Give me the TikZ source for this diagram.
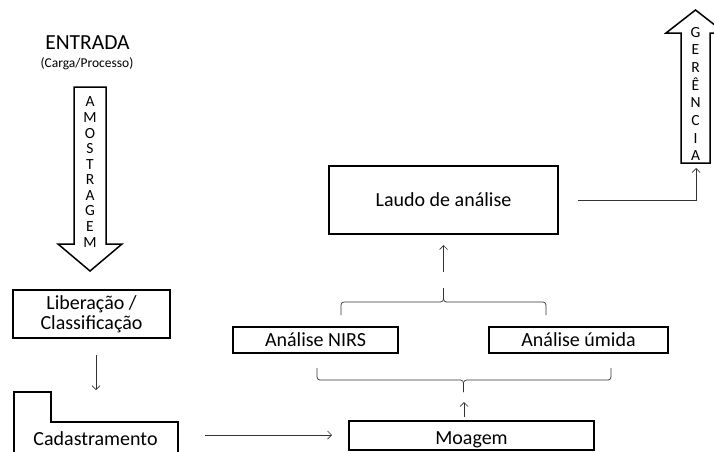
\documentclass[tikz,border=0pt]{standalone}
\usepackage{fontspec}
\setmainfont{Carlito}
\usetikzlibrary{arrows.meta}
\begin{document}
\begin{tikzpicture}[x=1pt,y=-1pt,
  box/.style={draw,line width=1.5pt,inner sep=0pt,font=\fontsize{20}{20}\selectfont,align=center},
  fat/.style={draw,line width=1.5pt,line join=miter},
  conn/.style={line width=0.7pt,draw=black!80,-{Straight Barb[length=4pt,width=8pt]}},
  brc/.style={line width=0.7pt,draw=black!80,rounded corners=3pt},
  vlet/.style={inner sep=0pt,align=center,font=\fontsize{15.5}{15.56}\selectfont}]
\useasboundingbox (0,0) rectangle (714,451);
\clip (0,0) rectangle (714,451);
% input
\node[font=\fontsize{21.5}{21.5}\selectfont] (entrada) at (87.5,43) {ENTRADA};
\node[font=\fontsize{13.5}{13.5}\selectfont] (carga) at (87,64) {(Carga/Processo)};
% amostragem arrow
\draw[fat] (74,87) -- (106,87) -- (106,244) -- (122,244) -- (90,271) -- (58,244) -- (74,244) -- cycle;
\node[vlet] (amos) at (90,172) {A\\M\\O\\S\\T\\R\\A\\G\\E\\M};
% liberacao
\node[box,minimum width=157pt,minimum height=48pt] (lib) at (91.5,314) {Liberação /\\Classificação};
% cadastramento
\draw[fat] (14,460) -- (14,392) -- (51,392) -- (51,422) -- (178,422) -- (178,460);
\node[font=\fontsize{20}{20}\selectfont,inner sep=0pt] (cad) at (95.5,439) {Cadastramento};
% moagem
\node[box,minimum width=245pt,minimum height=29pt,text height=17.3pt,text depth=0pt] (moa) at (471.5,435.5) {Moagem};
% analyses
\node[box,minimum width=165pt,minimum height=26pt] (nirs) at (315.5,340) {Análise NIRS};
\node[box,minimum width=179pt,minimum height=26pt] (umi) at (578.5,340) {Análise úmida};
% laudo
\node[box,minimum width=229pt,minimum height=68pt] (laudo) at (443.5,200) {Laudo de análise};
% gerencia arrow
\draw[fat] (681,163) -- (681,33) -- (666,33) -- (695.5,10) -- (725,33) -- (710,33) -- (710,163) -- cycle;
\node[vlet,font=\fontsize{15.5}{17.7}\selectfont] (ger) at (695.5,94) {G\\E\\R\\Ê\\N\\C\\I\\A};
% connectors
\coordinate (la) at (96,355);
\coordinate (lb) at (96,390);
\draw[conn] (la) -- (lb);
\coordinate (ca) at (205,435);
\coordinate (cb) at (332,435);
\draw[conn] (ca) -- (cb);
\coordinate (ma) at (464,417);
\coordinate (mb) at (464,402);
\draw[conn] (ma) -- (mb);
% lower brace (tip down)
\coordinate (b1l) at (317,368);
\coordinate (b1r) at (611,368);
\coordinate (b1t) at (463.5,392);
\draw[brc] (b1l) -- (317,380) -- (463.5,380) -- (b1t);
\draw[brc] (b1r) -- (611,380) -- (463.5,380) -- (b1t);
% upper brace (tip up)
\coordinate (b2l) at (341,315);
\coordinate (b2r) at (546,315);
\coordinate (b2t) at (443.5,288);
\draw[brc] (b2l) -- (341,302) -- (443.5,302) -- (b2t);
\draw[brc] (b2r) -- (546,302) -- (443.5,302) -- (b2t);
\coordinate (ua) at (443.5,272);
\coordinate (ub) at (443.5,245);
\draw[conn] (ua) -- (ub);
% laudo to gerencia
\coordinate (ga) at (578,200);
\coordinate (gc) at (696,200);
\coordinate (gb) at (696,168);
\draw[conn] (ga) -- (gc) -- (gb);
\end{tikzpicture}
\end{document}
